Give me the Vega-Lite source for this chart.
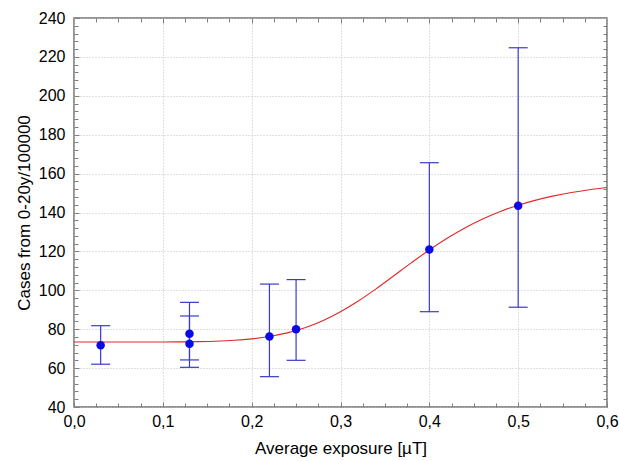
{
  "$schema": "https://vega.github.io/schema/vega-lite/v6.json",
  "width": 533,
  "height": 389,
  "autosize": "none",
  "padding": {"left": 74, "top": 18, "right": 12, "bottom": 54},
  "background": "white",
  "config": {
    "view": {"stroke": "#707070", "strokeWidth": 1.5},
    "font": "Liberation Sans",
    "axis": {"domain": false, "labelFlush": false, "labelOverlap": false, "tickColor": "#808080", "labelColor": "#000000", "titleColor": "#000000", "titleFontWeight": "normal", "labelFont": "Liberation Sans", "titleFont": "Liberation Sans"}
  },
  "datasets": {
    "curve": [
      {"x": 0.0, "y": 73.4}, {"x": 0.02, "y": 73.4}, {"x": 0.04, "y": 73.4}, {"x": 0.06, "y": 73.4},
      {"x": 0.08, "y": 73.41}, {"x": 0.1, "y": 73.43}, {"x": 0.12, "y": 73.48}, {"x": 0.14, "y": 73.6},
      {"x": 0.16, "y": 73.84}, {"x": 0.18, "y": 74.28}, {"x": 0.2, "y": 75.04}, {"x": 0.22, "y": 76.26},
      {"x": 0.24, "y": 78.11}, {"x": 0.26, "y": 80.77}, {"x": 0.28, "y": 84.36}, {"x": 0.3, "y": 88.95},
      {"x": 0.32, "y": 94.48}, {"x": 0.34, "y": 100.75}, {"x": 0.36, "y": 107.46}, {"x": 0.38, "y": 114.23},
      {"x": 0.4, "y": 120.76}, {"x": 0.42, "y": 126.75}, {"x": 0.44, "y": 132.07}, {"x": 0.46, "y": 136.65},
      {"x": 0.48, "y": 140.53}, {"x": 0.5, "y": 143.74}, {"x": 0.52, "y": 146.37}, {"x": 0.54, "y": 148.53},
      {"x": 0.56, "y": 150.28}, {"x": 0.58, "y": 151.7}, {"x": 0.6, "y": 152.85}
    ],
    "obs": [
      {"x": 0.03, "y": 71.7, "lo": 62.0, "hi": 81.8},
      {"x": 0.13, "y": 77.7, "lo": 64.2, "hi": 93.8},
      {"x": 0.13, "y": 72.5, "lo": 60.4, "hi": 86.8},
      {"x": 0.22, "y": 76.2, "lo": 55.6, "hi": 103.2},
      {"x": 0.25, "y": 80.0, "lo": 64.0, "hi": 105.5},
      {"x": 0.4, "y": 121.0, "lo": 89.0, "hi": 165.6},
      {"x": 0.5, "y": 143.5, "lo": 91.3, "hi": 224.7}
    ]
  },
  "layer": [
    {
      "data": {"name": "curve"},
      "mark": {"type": "line", "color": "#e02828", "strokeWidth": 1.1, "interpolate": "monotone"},
      "encoding": {
        "x": {
          "field": "x", "type": "quantitative",
          "scale": {"domain": [0, 0.6], "nice": false, "zero": false},
          "axis": {
            "orient": "bottom",
            "title": "Average exposure [µT]",
            "titleFontSize": 17, "titlePadding": 10,
            "labelFontSize": 16, "labelPadding": 11,
            "values": [0, 0.025, 0.05, 0.075, 0.1, 0.125, 0.15, 0.175, 0.2, 0.225, 0.25, 0.275, 0.3, 0.325, 0.35, 0.375, 0.4, 0.425, 0.45, 0.475, 0.5, 0.525, 0.55, 0.575, 0.6],
            "labelExpr": "abs(datum.value*10 - round(datum.value*10)) < 0.001 ? replace(format(datum.value, '.1f'), '.', ',') : ''",
            "tickSize": {"condition": {"test": "abs(datum.value*10 - round(datum.value*10)) < 0.001", "value": -5}, "value": -4},
            "grid": true,
            "gridColor": "#c0c0c0", "gridDash": [1, 2], "gridWidth": 1,
            "gridOpacity": {"condition": {"test": "abs(datum.value*10 - round(datum.value*10)) < 0.001", "value": 1}, "value": 0}
          }
        },
        "y": {
          "field": "y", "type": "quantitative",
          "scale": {"domain": [40, 240], "nice": false, "zero": false},
          "axis": {
            "orient": "left",
            "title": "Cases from 0-20y/100000",
            "titleFontSize": 17, "titlePadding": 5,
            "labelFontSize": 16, "labelPadding": 14,
            "values": [40, 44, 48, 52, 56, 60, 64, 68, 72, 76, 80, 84, 88, 92, 96, 100, 104, 108, 112, 116, 120, 124, 128, 132, 136, 140, 144, 148, 152, 156, 160, 164, 168, 172, 176, 180, 184, 188, 192, 196, 200, 204, 208, 212, 216, 220, 224, 228, 232, 236, 240],
            "labelExpr": "datum.value % 20 == 0 ? format(datum.value, 'd') : ''",
            "tickSize": {"condition": {"test": "datum.value % 20 == 0", "value": -5}, "value": -4},
            "grid": true,
            "gridColor": "#c0c0c0", "gridDash": [1, 2], "gridWidth": 1,
            "gridOpacity": {"condition": {"test": "datum.value % 20 == 0", "value": 1}, "value": 0}
          }
        }
      }
    },
    {
      "data": {"name": "obs"},
      "layer": [
        {
          "mark": {"type": "rule", "color": "#3a3ad0", "strokeWidth": 1.2},
          "encoding": {
            "x": {"field": "x", "type": "quantitative", "scale": {"domain": [0, 0.6], "nice": false, "zero": false}, "axis": null},
            "y": {"field": "lo", "type": "quantitative", "scale": {"domain": [40, 240], "nice": false, "zero": false}, "axis": null},
            "y2": {"field": "hi"}
          }
        },
        {
          "mark": {"type": "tick", "orient": "horizontal", "color": "#3a3ad0", "size": 19, "thickness": 1.2, "opacity": 1},
          "encoding": {
            "x": {"field": "x", "type": "quantitative", "scale": {"domain": [0, 0.6], "nice": false, "zero": false}, "axis": null},
            "y": {"field": "lo", "type": "quantitative", "scale": {"domain": [40, 240], "nice": false, "zero": false}, "axis": null}
          }
        },
        {
          "mark": {"type": "tick", "orient": "horizontal", "color": "#3a3ad0", "size": 19, "thickness": 1.2, "opacity": 1},
          "encoding": {
            "x": {"field": "x", "type": "quantitative", "scale": {"domain": [0, 0.6], "nice": false, "zero": false}, "axis": null},
            "y": {"field": "hi", "type": "quantitative", "scale": {"domain": [40, 240], "nice": false, "zero": false}, "axis": null}
          }
        },
        {
          "mark": {"type": "circle", "color": "#0a0ae6", "size": 72, "opacity": 1},
          "encoding": {
            "x": {"field": "x", "type": "quantitative", "scale": {"domain": [0, 0.6], "nice": false, "zero": false}, "axis": null},
            "y": {"field": "y", "type": "quantitative", "scale": {"domain": [40, 240], "nice": false, "zero": false}, "axis": null}
          }
        }
      ]
    },
    {
      "data": {"name": "obs"},
      "mark": {"type": "point", "opacity": 0},
      "encoding": {
        "x": {
          "field": "x", "type": "quantitative",
          "scale": {"domain": [0, 0.6], "nice": false, "zero": false},
          "axis": {
            "orient": "top", "title": null, "labels": false, "grid": false,
            "values": [0.025, 0.05, 0.075, 0.1, 0.125, 0.15, 0.175, 0.2, 0.225, 0.25, 0.275, 0.3, 0.325, 0.35, 0.375, 0.4, 0.425, 0.45, 0.475, 0.5, 0.525, 0.55, 0.575],
            "tickSize": {"condition": {"test": "abs(datum.value*10 - round(datum.value*10)) < 0.001", "value": -5}, "value": -4}
          }
        },
        "y": {
          "field": "y", "type": "quantitative",
          "scale": {"domain": [40, 240], "nice": false, "zero": false},
          "axis": {
            "orient": "right", "title": null, "labels": false, "grid": false,
            "values": [44, 48, 52, 56, 60, 64, 68, 72, 76, 80, 84, 88, 92, 96, 100, 104, 108, 112, 116, 120, 124, 128, 132, 136, 140, 144, 148, 152, 156, 160, 164, 168, 172, 176, 180, 184, 188, 192, 196, 200, 204, 208, 212, 216, 220, 224, 228, 232, 236],
            "tickSize": {"condition": {"test": "datum.value % 20 == 0", "value": -5}, "value": -4}
          }
        }
      }
    }
  ],
  "resolve": {"axis": {"x": "independent", "y": "independent"}}
}
